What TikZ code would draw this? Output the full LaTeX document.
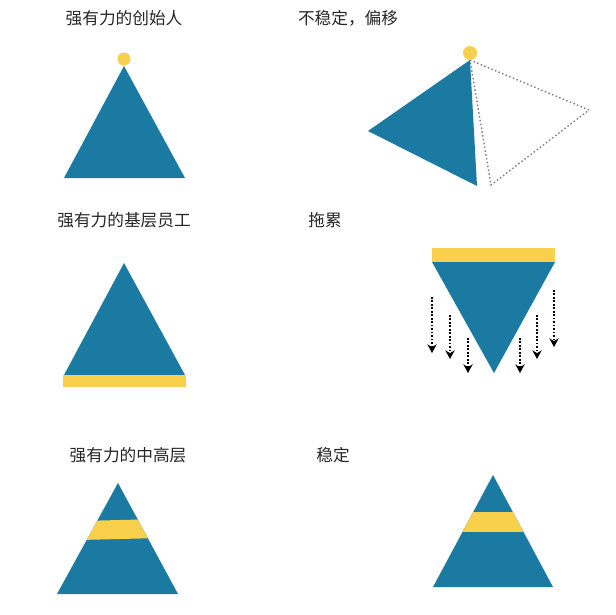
\documentclass[tikz,border=0pt]{standalone}
\usepackage{fontspec}
\setmainfont{Noto Sans CJK SC}
\usetikzlibrary{arrows.meta}
\definecolor{tblue}{HTML}{1B7AA1}
\definecolor{tyellow}{HTML}{F8D04B}
\tikzset{
  caption/.style={font=\fontsize{12.5}{14}\selectfont, text=black!85},
  pull/.style={-{Stealth[length=6.5pt,width=7pt]}, line width=1.3pt,
               dash pattern=on 1.3pt off 1.3pt},
  ghost/.style={gray, line width=1.1pt, dash pattern=on 1.1pt off 1.8pt}
}
\begin{document}
\begin{tikzpicture}[x=0.75pt, y=-0.75pt]
    \useasboundingbox (0,0) rectangle (616,614);

    % Captions
    \node[caption] (founder) at (124,18) {强有力的创始人};
    \node[caption] (shift) at (348,18) {不稳定，偏移};
    \node[caption] (base) at (124,220) {强有力的基层员工};
    \node[caption] (drag) at (325,220) {拖累};
    \node[caption] (middle) at (128,455) {强有力的中高层};
    \node[caption] (stable) at (333,455) {稳定};

    % Founder on top
    \fill[tblue] (124,66) -- (185,178) -- (64,178) -- cycle;
    \fill[tyellow] (124,59) circle (6.5);

    % Tilted and offset
    \draw[ghost] (470,60) -- (589,110) -- (491,185) -- cycle;
    \fill[tblue] (470,60) -- (477,186) -- (368,131) -- cycle;
    \fill[tyellow] (470,53) circle (7);

    % Strong base
    \fill[tblue] (124,263) -- (185,375) -- (64,375) -- cycle;
    \fill[tyellow] (63,375) rectangle (186,387);

    % Dragged down
    \fill[tyellow] (432,248) rectangle (555,262);
    \fill[tblue] (432,262) -- (555,262) -- (494,373) -- cycle;
    \foreach \x/\ya/\yb in {432/297/353, 450/315/359, 468/338/373,
                            520/338/373, 537/315/359, 554/290/347}
        \draw[pull] (\x,\ya) -- (\x,\yb);

    % Strong middle layer
    \fill[tblue] (118,483) -- (178,594) -- (57,594) -- cycle;
    \begin{scope}
        \clip (118,483) -- (178,594) -- (57,594) -- cycle;
        \fill[tyellow] (40,522) -- (200,518) -- (200,537) -- (40,541) -- cycle;
    \end{scope}

    % Stable
    \fill[tblue] (493,475) -- (553,587) -- (433,587) -- cycle;
    \begin{scope}
        \clip (493,475) -- (553,587) -- (433,587) -- cycle;
        \fill[tyellow] (420,512) rectangle (570,532);
    \end{scope}

\end{tikzpicture}
\end{document}
